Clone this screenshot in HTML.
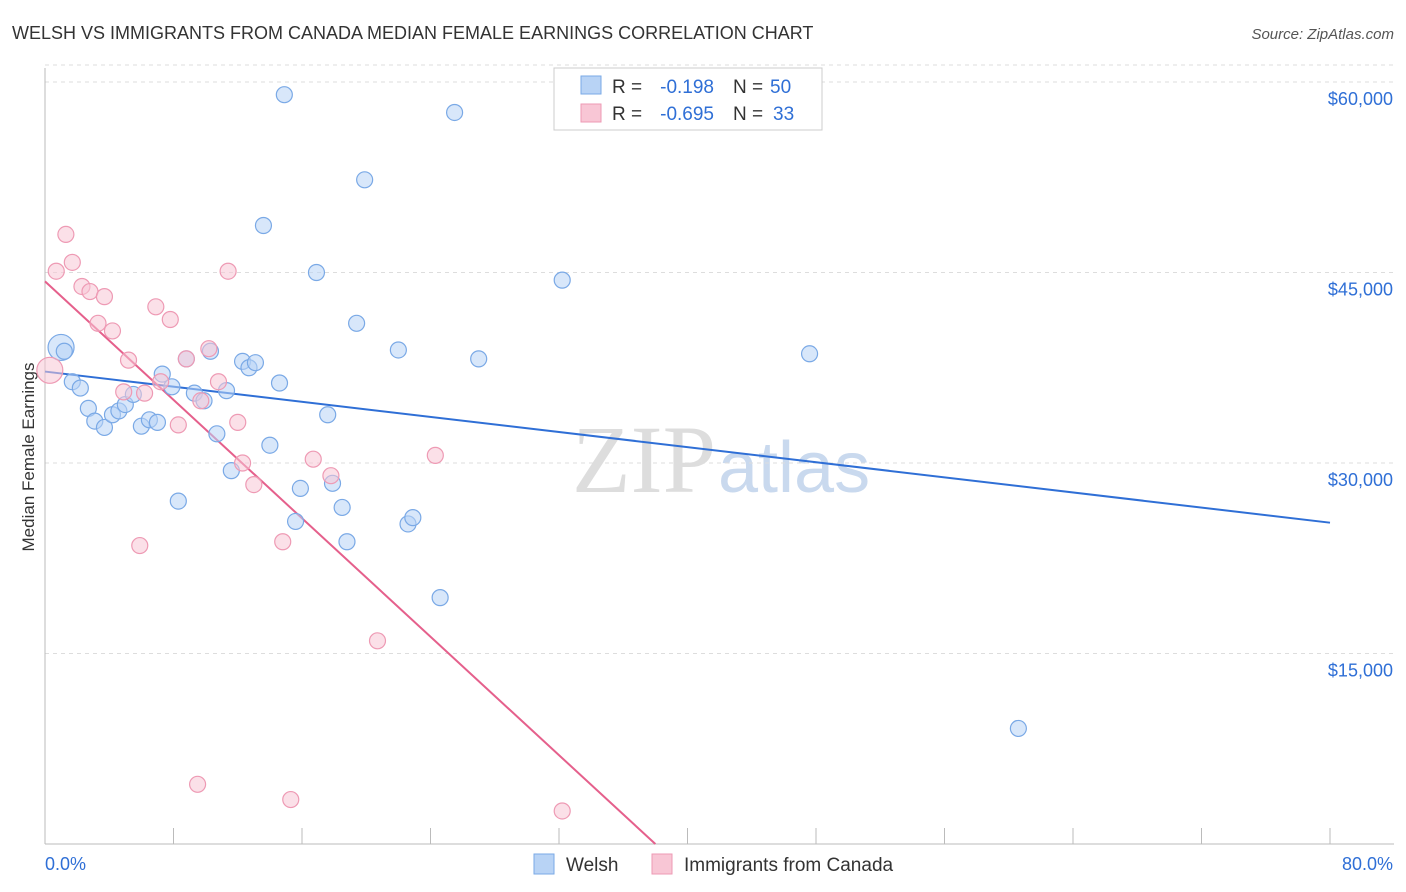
<!DOCTYPE html>
<html><head><meta charset="utf-8">
<style>
body{margin:0;background:#fff;font-family:"Liberation Sans",sans-serif;}
svg{display:block}
</style></head>
<body>
<svg id="chart" width="1406" height="892">
<text x="12" y="39" font-size="18" fill="#333">WELSH VS IMMIGRANTS FROM CANADA MEDIAN FEMALE EARNINGS CORRELATION CHART</text>
<text x="1394" y="39" font-size="15" fill="#555" font-style="italic" text-anchor="end">Source: ZipAtlas.com</text>
<text x="34" y="457" font-size="17" fill="#333" text-anchor="middle" transform="rotate(-90 34 457)">Median Female Earnings</text>
<text x="716" y="492" font-size="96" fill="#ddd" text-anchor="end" font-family="Liberation Serif,serif">ZIP</text>
<text x="718" y="492" font-size="72" fill="#c9d9ee">atlas</text>
<g id="grid"></g><g id="axes"></g><g id="lines"></g><g id="pts"></g>
<g>
<rect x="554" y="68" width="268" height="62" fill="#fff" stroke="#ccc"/>
<rect x="581" y="76" width="20" height="18" fill="#b8d3f5" stroke="#7aa9e6"/>
<text x="612" y="93" font-size="19" fill="#333">R =</text>
<text x="714" y="93" font-size="19" fill="#2f6fd6" text-anchor="end">-0.198</text>
<text x="733" y="93" font-size="19" fill="#333">N =</text>
<text x="770" y="93" font-size="19" fill="#2f6fd6">50</text>
<rect x="581" y="104" width="20" height="18" fill="#f8c6d5" stroke="#ee9ab4"/>
<text x="612" y="120" font-size="19" fill="#333">R =</text>
<text x="714" y="120" font-size="19" fill="#2f6fd6" text-anchor="end">-0.695</text>
<text x="733" y="120" font-size="19" fill="#333">N =</text>
<text x="773" y="120" font-size="19" fill="#2f6fd6">33</text>
</g>
<g>
<rect x="534" y="854" width="20" height="20" fill="#b8d3f5" stroke="#7aa9e6"/>
<text x="566" y="871" font-size="19" fill="#333">Welsh</text>
<rect x="652" y="854" width="20" height="20" fill="#f8c6d5" stroke="#ee9ab4"/>
<text x="684" y="871" font-size="19" fill="#333">Immigrants from Canada</text>
</g>
<text x="45" y="870" font-size="18" fill="#2f6fd6">0.0%</text>
<text x="1393" y="870" font-size="18" fill="#2f6fd6" text-anchor="end">80.0%</text>
</svg>
<script>
const yTicks=[15000,30000,45000,60000];
const yTickLabels=["$15,000","$30,000","$45,000","$60,000"];
const welshX=[1.0,1.2,1.7,2.2,2.7,3.1,3.7,4.2,4.6,5.0,5.5,6.0,6.5,7.0,7.3,7.9,8.3,8.8,9.3,9.9,10.3,10.7,11.3,11.6,12.3,12.7,13.1,13.6,14.0,14.6,14.9,15.6,15.9,16.9,17.6,17.9,18.5,18.8,19.4,19.9,22.0,22.6,22.9,24.6,25.5,27.0,32.2,47.6,60.6];
const welshY=[39100,38800,36400,35900,34300,33300,32800,33800,34100,34600,35400,32900,33400,33200,37000,36000,27000,38200,35500,34900,38800,32300,35700,29400,38000,37500,37900,48700,31400,36300,59000,25400,28000,45000,33800,28400,26500,23800,41000,52300,38900,25200,25700,19400,57600,38200,44400,38600,9100];
const canX=[0.3,0.7,1.3,1.7,2.3,2.8,3.3,3.7,4.2,4.9,5.2,5.9,6.2,6.9,7.2,7.8,8.3,8.8,9.5,9.7,10.2,10.8,11.4,12.0,12.3,13.0,14.8,15.3,16.7,17.8,20.7,24.3,32.2];
const canY=[37300,45100,48000,45800,43900,43500,41000,43100,40400,35600,38100,23500,35500,42300,36400,41300,33000,38200,4700,34900,39000,36400,45100,33200,30000,28300,23800,3500,30300,29000,16000,30600,2600];
const welshTrend=[0,37200,80,25300];
const canTrend=[0,44300,38,0];
const X=v=>45+v/80*1285, Y=v=>844-v/15000*190.5;
const NS="http://www.w3.org/2000/svg";
function mk(p,t,a){const e=document.createElementNS(NS,t);for(const k in a)e.setAttribute(k,a[k]);document.getElementById(p).appendChild(e);return e;}
yTicks.forEach((t,i)=>{
 const l=mk('grid','line',{x1:45,x2:1394,y1:Y(t),y2:Y(t),stroke:'#ddd','stroke-dasharray':'4 4'});
 
 
 const tx=mk('grid','text',{x:1393,y:Y(t)+23,'font-size':18,fill:'#2f6fd6','text-anchor':'end'});
 tx.textContent=yTickLabels[i];
 
 
});
const topGrid=mk('grid','line',{x1:45,x2:1394,y1:Y(60000)-17,y2:Y(60000)-17,stroke:'#ddd','stroke-dasharray':'4 4'});


const ya=mk('axes','line',{x1:45,x2:45,y1:68,y2:844,stroke:'#bbb'});


const xa=mk('axes','line',{x1:45,x2:1394,y1:844,y2:844,stroke:'#bbb'});


for(let i=0;i<=10;i++){const t=mk('axes','line',{x1:X(i*8),x2:X(i*8),y1:828,y2:844,stroke:'#bbb'});
 
 }
function pts(xs,ys,fill,stroke,name){xs.forEach((x,i)=>{const c=mk('pts','circle',{cx:X(x),cy:Y(ys[i]),r:(i==0?13:8),fill:fill,stroke:stroke,'fill-opacity':0.55,'stroke-width':1.2});
 
 });}
pts(welshX,welshY,'#b8d3f5','#7aa9e6','welsh-point');
pts(canX,canY,'#f8c6d5','#ee9ab4','canada-point');
const l1=mk('lines','line',{x1:X(welshTrend[0]),y1:Y(welshTrend[1]),x2:X(welshTrend[2]),y2:Y(welshTrend[3]),stroke:'#2f6fd6','stroke-width':2});


const l2=mk('lines','line',{x1:X(canTrend[0]),y1:Y(canTrend[1]),x2:X(canTrend[2]),y2:Y(canTrend[3]),stroke:'#e5608c','stroke-width':2});


</script>
</body></html>
